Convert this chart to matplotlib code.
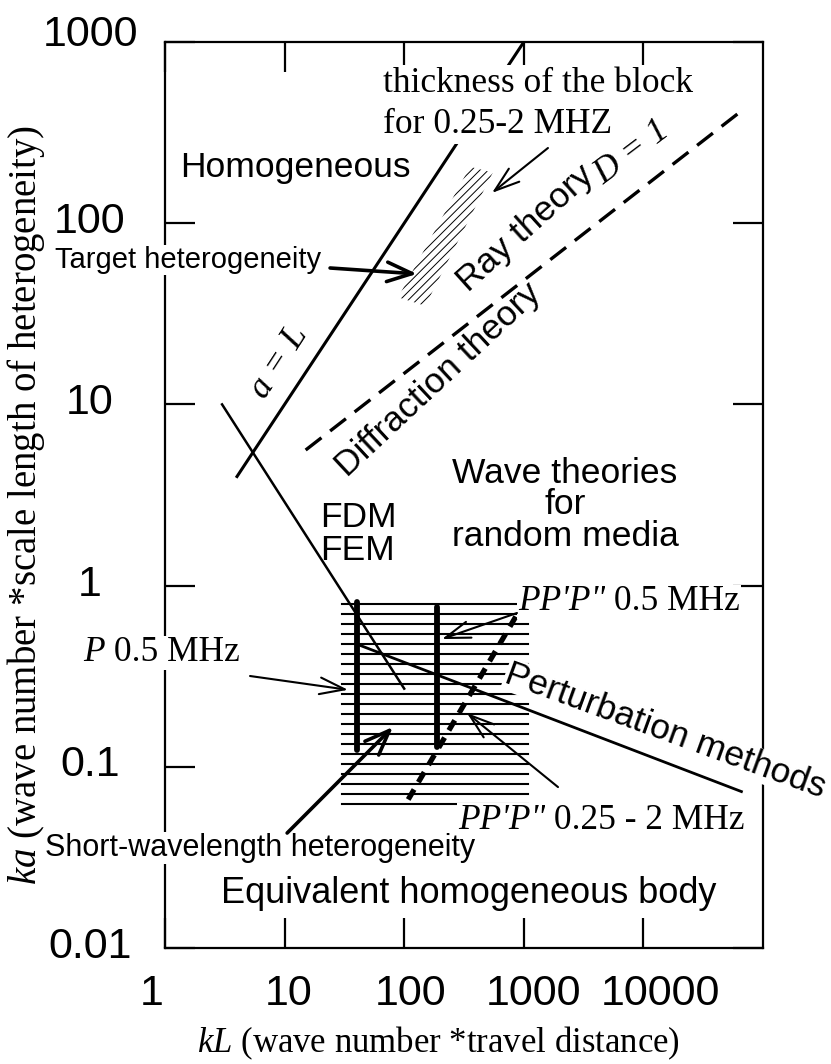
import matplotlib
matplotlib.use('Agg')
import matplotlib.pyplot as plt
import matplotlib.transforms as mtransforms
from matplotlib.patches import Polygon
from matplotlib.ticker import NullLocator

plt.rcParams['mathtext.fontset'] = 'custom'
plt.rcParams['mathtext.rm'] = 'Liberation Serif'
plt.rcParams['mathtext.it'] = 'Liberation Serif:italic'
plt.rcParams['hatch.linewidth'] = 0.7

SANS = ['Liberation Sans', 'DejaVu Sans']
SERIF = ['Liberation Serif', 'DejaVu Serif']

# axis ticks
kl_ticks = [1, 10, 100, 1000, 10000]
kl_tick_labels = ['1', '10', '100', '1000', '10000']
ka_ticks = [0.01, 0.1, 1, 10, 100, 1000]
ka_tick_labels = ['0.01', '0.1', '1', '10', '100', '1000']

# boundary lines (kL, ka)
aL_kl = [4, 1000]
aL_ka = [4, 1000]
fdm_kl = [3, 100]
fdm_ka = [10, 0.27]
pert_kl = [42, 66000]
pert_ka = [0.47, 0.073]
d1_kl = [15, 64000]
d1_ka = [5.6, 410]

# PP'P'' 0.25-2 MHz range (thick dashed)
ppp_kl = [108, 875]
ppp_ka = [0.066, 0.69]
# P 0.5 MHz and PP'P'' 0.5 MHz bars
p05_kl = [40, 40]
p05_ka = [0.81, 0.124]
ppp05_kl = [188, 188]
ppp05_ka = [0.76, 0.128]

# short-wavelength heterogeneity band (horizontal lines)
band_ka = [0.791, 0.697, 0.614, 0.541, 0.476, 0.419, 0.369, 0.325, 0.286,
           0.252, 0.222, 0.196, 0.172, 0.152, 0.134, 0.118, 0.104, 0.091,
           0.080, 0.071, 0.062]
band_kl = [30, 1080]

# target heterogeneity region
target_kl = [89, 150, 550, 355]
target_ka = [39, 35, 190, 205]

fig = plt.figure(figsize=(8.31, 10.64), dpi=100)
ax = fig.add_axes([165 / 831, 1 - 948 / 1064, 598 / 831, 906 / 1064])
ax.set_xscale('log')
ax.set_yscale('log')
ax.set_xlim(1, 1e5)
ax.set_ylim(0.01, 1000)

for s in ax.spines.values():
    s.set_linewidth(1.6)

ax.set_xticks(kl_ticks)
ax.set_xticklabels(kl_tick_labels)
ax.set_yticks(ka_ticks)
ax.set_yticklabels(ka_tick_labels)
ax.xaxis.set_minor_locator(NullLocator())
ax.yaxis.set_minor_locator(NullLocator())
ax.tick_params(which='major', direction='in', top=True, right=True,
               length=21.6, width=1.6, labelsize=31)
ax.tick_params(axis='x', pad=19)
ax.tick_params(axis='y', pad=54)
for lab in ax.get_xticklabels() + ax.get_yticklabels():
    lab.set_family(SANS)

# small label shifts as in the original artwork (pixels)
x_shift = [-13, 4, 6, 10, 17]
y_shift = [6, 6, 5, 6, 6, 12]
for lab, dx in zip(ax.get_xticklabels(), x_shift):
    lab.set_transform(lab.get_transform() + mtransforms.ScaledTranslation(
        dx / 100, 0, fig.dpi_scale_trans))
for lab, dy in zip(ax.get_yticklabels(), y_shift):
    lab.set_horizontalalignment('center')
    lab.set_transform(lab.get_transform() + mtransforms.ScaledTranslation(
        0, dy / 100, fig.dpi_scale_trans))

# lines
ax.plot(aL_kl, aL_ka, color='k', lw=2.2)
ax.plot(fdm_kl, fdm_ka, color='k', lw=1.8)
ax.plot(pert_kl, pert_ka, color='k', lw=2.0)
ax.plot(d1_kl, d1_ka, color='k', lw=2.4, dashes=(6, 3.3))

for y in band_ka:
    ax.plot(band_kl, [y, y], color='k', lw=1.5)

ax.plot(ppp_kl, ppp_ka, color='k', lw=3.8, dashes=(2.2, 1.6))
ax.plot(p05_kl, p05_ka, color='k', lw=4.2, solid_capstyle='round')
ax.plot(ppp05_kl, ppp05_ka, color='k', lw=4.2, solid_capstyle='round')

ax.add_patch(Polygon(list(zip(target_kl, target_ka)), closed=True,
                     facecolor='none', edgecolor='k', lw=0, hatch='////'))

white = dict(facecolor='white', edgecolor='none', pad=0.5)

# texts
ax.text(1.33, 204, 'Homogeneous', family=SANS, size=25.5, va='center')
ax.text(66.5, 315, 'thickness of the block\nfor 0.25-2 MHZ', family=SERIF,
        size=25.5, va='baseline', linespacing=1.3,
        bbox=dict(facecolor='white', edgecolor='none', pad=2))
ax.text(0.12, 62.7, 'Target heterogeneity', family=SANS, size=21,
        va='center', bbox=white)
ax.text(1033, 94, 'Ray theory', family=SANS, size=25.5, rotation=42,
        ha='center', va='center', rotation_mode='anchor')
ax.text(8030, 244, 'D = 1', family=SERIF, style='italic', size=25.5,
        rotation=37, ha='center', va='center', rotation_mode='anchor')
ax.text(194, 13.6, 'Diffraction theory', family=SANS, size=25.5,
        rotation=43, ha='center', va='center', rotation_mode='anchor')
ax.text(8.98, 17.1, 'a = L', family=SERIF, style='italic', size=25.5,
        rotation=57, ha='center', va='center', rotation_mode='anchor')
ax.text(2210, 2.79, 'Wave theories\nfor\nrandom media', family=SANS,
        size=25.5, ha='center', va='center', linespacing=0.95)
ax.text(19.8, 2.39, 'FDM', family=SANS, size=25.5, va='center')
ax.text(19.8, 1.57, 'FEM', family=SANS, size=25.5, va='center')
ax.text(15170, 0.1576, 'Perturbation methods', family=SANS, size=25.5,
        rotation=-20, ha='center', va='center', rotation_mode='anchor',
        bbox=dict(facecolor='white', edgecolor='none', pad=0.2))
ax.text(0.0992, 0.0356, 'Short-wavelength heterogeneity', family=SANS,
        size=22, va='center', bbox=white)
ax.text(41200, 0.0201, 'Equivalent homogeneous body', family=SANS,
        size=26, ha='right', va='center')


def two_part(x, y, it_txt, rm_txt):
    t1 = ax.text(x, y, it_txt, family=SERIF, style='italic', size=25.5,
                 va='center', ha='left', bbox=white)
    ax.annotate(rm_txt, xy=(1, 0), xycoords=t1, va='bottom', ha='left',
                family=SERIF, size=25.5, bbox=white)


two_part(894, 0.812, 'PP\'P"', ' 0.5 MHz')
two_part(282, 0.0508, 'PP\'P"', ' 0.25 - 2 MHz')
t_mhz = ax.text(4.24, 0.425, ' 0.5 MHz', family=SERIF, size=25.5,
                ha='right', va='center', bbox=white)
ax.annotate('P', xy=(0, 0), xycoords=t_mhz, ha='right', va='bottom',
            family=SERIF, style='italic', size=25.5, bbox=white)

# arrows
thick = dict(arrowstyle='->,head_length=0.9,head_width=0.35', lw=2.6,
             color='k', shrinkA=0, shrinkB=0, mutation_scale=20)
thin = dict(arrowstyle='->,head_length=0.9,head_width=0.3', lw=1.5,
            color='k', shrinkA=0, shrinkB=0, mutation_scale=20)
ax.annotate('', xy=(128, 52.5), xytext=(24, 56.6), arrowprops=thick)
ax.annotate('', xy=(80.6, 0.166), xytext=(10.5, 0.0431), arrowprops=thick)
ax.annotate('', xy=(542, 147), xytext=(1592, 260), arrowprops=thin)
ax.annotate('', xy=(33.9, 0.266), xytext=(5.14, 0.317), arrowprops=thin)
ax.annotate('', xy=(207, 0.507), xytext=(877, 0.706), arrowprops=thin)
ax.annotate('', xy=(335, 0.198), xytext=(1932, 0.0773), arrowprops=thin)

# axis labels
fig.text(438 / 831, 1 - 1043 / 1064,
         r'$kL$ (wave number *travel distance)', family=SERIF, size=25,
         ha='center', va='center')
fig.text(26 / 831, 1 - 505 / 1064,
         r'$ka$ (wave number *scale length of heterogeneity)', family=SERIF,
         size=28, ha='center', va='center', rotation=90)

fig.savefig('out.png', dpi=100)
